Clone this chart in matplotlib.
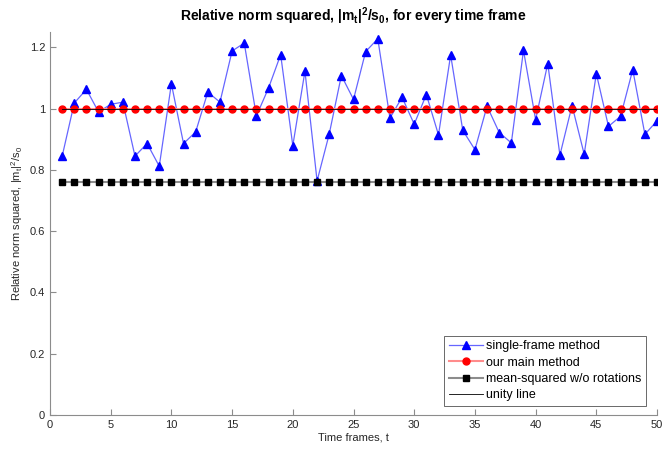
import numpy as np
import matplotlib
matplotlib.use("Agg")
import matplotlib.pyplot as plt

# ==============================
# Data
# ==============================

t = np.arange(1, 51)

single_frame = [
    0.844, 1.018, 1.063, 0.989, 1.014, 1.021, 0.845, 0.886, 0.812, 1.081,
    0.886, 0.924, 1.054, 1.021, 1.188, 1.214, 0.976, 1.067, 1.176, 0.879,
    1.122, 0.764, 0.917, 1.108, 1.030, 1.186, 1.228, 0.969, 1.037, 0.949,
    1.046, 0.914, 1.175, 0.929, 0.866, 1.008, 0.922, 0.888, 1.190, 0.964,
    1.147, 0.848, 1.010, 0.851, 1.114, 0.942, 0.975, 1.127, 0.916, 0.960,
]
main_method = [1.0] * 50
mean_squared = [0.761] * 50
unity = [1.0] * 50

x_ticks = list(range(0, 51, 5))
y_ticks = [0, 0.2, 0.4, 0.6, 0.8, 1, 1.2]
y_tick_labels = ["0", "0.2", "0.4", "0.6", "0.8", "1", "1.2"]

# ==============================
# Figure
# ==============================

plt.rcParams["font.family"] = ["Liberation Sans", "DejaVu Sans"]

fig = plt.figure(figsize=(6.62, 4.54), dpi=100)
ax = fig.add_axes([0.0755, 0.0859, 0.917, 0.8436])

ax.plot(t, single_frame, color=(0.4, 0.4, 1.0), lw=0.9,
        marker="^", ms=5.5, mfc="blue", mec="blue",
        label="single-frame method")
ax.plot(t, main_method, color=(1.0, 0.55, 0.55), lw=1.5,
        marker="o", ms=5, mfc="red", mec="red",
        label="our main method")
ax.plot(t, mean_squared, color=(0.55, 0.55, 0.55), lw=1.5,
        marker="s", ms=3.8, mfc="black", mec="black",
        label="mean-squared w/o rotations")
ax.plot(t, unity, color="black", lw=0.6, label="unity line")

ax.set_xlim(0, 50)
ax.set_ylim(0, 1.25)
ax.set_xticks(x_ticks)
ax.set_yticks(y_ticks)
ax.set_yticklabels(y_tick_labels)

for side in ["top", "right"]:
    ax.spines[side].set_visible(False)
for side in ["left", "bottom"]:
    ax.spines[side].set_color("#8c8c8c")
    ax.spines[side].set_linewidth(0.8)

ax.tick_params(direction="in", length=4, width=0.8, colors="#8c8c8c",
               labelcolor="#262626", labelsize=8)

ax.set_xlabel("Time frames, t", fontsize=8, color="#262626", labelpad=2)
ax.set_ylabel(r"Relative norm squared, |m$_\mathregular{t}$|$^\mathregular{2}$/s$_\mathregular{0}$",
              fontsize=8, color="#262626", labelpad=3)
ax.set_title(r"Relative norm squared, |m$_\mathregular{t}$|$^\mathregular{2}$/s$_\mathregular{0}$, for every time frame",
             fontsize=10, fontweight="bold", pad=8)

leg = ax.legend(loc="lower right", fontsize=9, frameon=True, fancybox=False,
                edgecolor="#262626", borderpad=0.35, labelspacing=0.35,
                handlelength=2.7, handletextpad=0.3, borderaxespad=0,
                bbox_to_anchor=(0.982, 0.024))
leg.get_frame().set_linewidth(0.6)

plt.savefig("out.png", dpi=100)
plt.close()
